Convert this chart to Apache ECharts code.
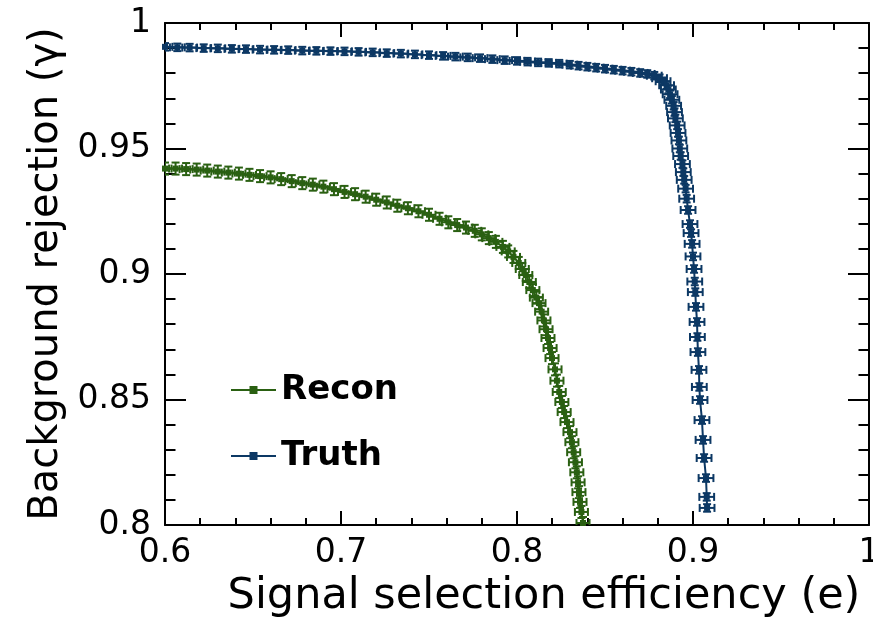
<!DOCTYPE html>
<html>
<head>
<meta charset="utf-8">
<script src="https://cdn.jsdelivr.net/npm/echarts@6/dist/echarts.min.js"></script>
<style>
  html, body { margin: 0; padding: 0; background: #fff; }
  #roc { width: 873px; height: 621px; }
</style>
</head>
<body>
<div id="roc"></div>
<script>
// ROC curves: background rejection vs signal efficiency

var reconX = [0.600, 0.606, 0.612, 0.618, 0.624, 0.630, 0.636, 0.642, 0.648, 0.654,
	0.660, 0.666, 0.672, 0.678, 0.684, 0.690, 0.696, 0.702, 0.708, 0.714,
	0.720, 0.726, 0.732, 0.738, 0.744, 0.750, 0.756, 0.761, 0.766, 0.771,
	0.776, 0.780, 0.784, 0.788, 0.792, 0.795, 0.798, 0.801, 0.803, 0.805,
	0.807, 0.809, 0.811, 0.8125, 0.814, 0.8153, 0.8165, 0.8176, 0.8188, 0.8199,
	0.8216, 0.8227, 0.8240, 0.8255, 0.8268, 0.8284, 0.8301, 0.8312, 0.8322, 0.8332,
	0.8340, 0.8347, 0.8352, 0.8358, 0.8366, 0.8375];
var reconY = [0.9420, 0.9420, 0.9418, 0.9416, 0.9412, 0.9408, 0.9404, 0.9400, 0.9395, 0.9390,
	0.9385, 0.9378, 0.9370, 0.9362, 0.9356, 0.9348, 0.9338, 0.9327, 0.9318, 0.9308,
	0.9296, 0.9285, 0.9272, 0.9262, 0.9250, 0.9236, 0.9220, 0.9206, 0.9195, 0.9185,
	0.9172, 0.9158, 0.9143, 0.9128, 0.9108, 0.9090, 0.9068, 0.9044, 0.9020, 0.8996,
	0.8968, 0.8936, 0.8906, 0.8884, 0.8850, 0.8815, 0.8780, 0.8745, 0.8705, 0.8665,
	0.8620, 0.8575, 0.8530, 0.8490, 0.8450, 0.8410, 0.8370, 0.8330, 0.8290, 0.8250,
	0.8210, 0.8170, 0.8131, 0.8092, 0.8052, 0.8008];

var truthX = [0.600, 0.607, 0.614, 0.622, 0.630, 0.638, 0.646, 0.654, 0.662, 0.670,
	0.678, 0.686, 0.694, 0.702, 0.710, 0.718, 0.726, 0.734, 0.742, 0.750,
	0.758, 0.765, 0.772, 0.779, 0.786, 0.793, 0.800, 0.806, 0.812, 0.818,
	0.824, 0.830, 0.835, 0.840, 0.845, 0.850, 0.855, 0.860, 0.865, 0.870,
	0.874, 0.878, 0.881, 0.883, 0.885, 0.886, 0.887, 0.888, 0.889, 0.8895,
	0.890, 0.891, 0.8915, 0.892, 0.8925, 0.893, 0.894, 0.8945, 0.895, 0.8958,
	0.8964, 0.8972, 0.8983, 0.8989, 0.8995, 0.9000, 0.9006, 0.9010, 0.9013, 0.9017,
	0.9023, 0.9025, 0.9028, 0.9034, 0.9036, 0.9040, 0.9051, 0.9057, 0.9063, 0.9074,
	0.9078, 0.9080];
var truthY = [0.9905, 0.9903, 0.9902, 0.9900, 0.9899, 0.9897, 0.9896, 0.9894, 0.9893, 0.9892,
	0.9890, 0.9889, 0.9888, 0.9887, 0.9885, 0.9883, 0.9880, 0.9878, 0.9875, 0.9872,
	0.9869, 0.9866, 0.9863, 0.9860, 0.9856, 0.9852, 0.9849, 0.9846, 0.9843, 0.9841,
	0.9838, 0.9834, 0.9830, 0.9826, 0.9822, 0.9818, 0.9814, 0.9810, 0.9806, 0.9801,
	0.9797, 0.9790, 0.9780, 0.9768, 0.9752, 0.9735, 0.9716, 0.9694, 0.9670, 0.9645,
	0.9620, 0.9592, 0.9562, 0.9532, 0.9500, 0.9470, 0.9438, 0.9406, 0.9375, 0.9340,
	0.9300, 0.9255, 0.9199, 0.9163, 0.9120, 0.9070, 0.9020, 0.8970, 0.8928, 0.8869,
	0.8809, 0.8749, 0.8689, 0.8618, 0.8550, 0.8498, 0.8418, 0.8339, 0.8267, 0.8187,
	0.8112, 0.8068];

// half widths of the error bars (x: efficiency, y: rejection)
var reconErr = [0.0037, 0.0024];
var truthErr = [0.0042, 0.0015];

var xTicks = [0.6, 1, 0.1];
var yTicks = [0.8, 1, 0.05];

var reconColor = '#2a6012';
var truthColor = '#0c3864';
var fontName = 'DejaVu Sans';

function pairs(xs, ys) {
	var out = [];
	for (var i = 0; i < xs.length; i++) {
		out.push([xs[i], ys[i]]);
	}
	return out;
}

function errorBars(color, err) {
	return function (params, api) {
		var x = api.value(0), y = api.value(1);
		var c = api.coord([x, y]);
		var l = api.coord([x - err[0], y])[0];
		var r = api.coord([x + err[0], y])[0];
		var t = api.coord([x, y + err[1]])[1];
		var b = api.coord([x, y - err[1]])[1];
		var cap = 4;
		var st = { stroke: color, lineWidth: 2 };
		return {
			type: 'group',
			children: [
				{ type: 'line', shape: { x1: l, y1: c[1], x2: r, y2: c[1] }, style: st },
				{ type: 'line', shape: { x1: l, y1: c[1] - cap, x2: l, y2: c[1] + cap }, style: st },
				{ type: 'line', shape: { x1: r, y1: c[1] - cap, x2: r, y2: c[1] + cap }, style: st },
				{ type: 'line', shape: { x1: c[0], y1: t, x2: c[0], y2: b }, style: st },
				{ type: 'line', shape: { x1: c[0] - cap, y1: t, x2: c[0] + cap, y2: t }, style: st },
				{ type: 'line', shape: { x1: c[0] - cap, y1: b, x2: c[0] + cap, y2: b }, style: st }
			]
		};
	};
}

function frameAxis(pos, range, showLabel, tickLen) {
	return {
		type: 'value',
		position: pos,
		min: range[0],
		max: range[1],
		interval: range[2],
		axisLine: { show: true, onZero: false, lineStyle: { color: '#000', width: 2 } },
		axisTick: { show: true, inside: true, length: tickLen, lineStyle: { color: '#000', width: 2 } },
		minorTick: { show: true, splitNumber: 5, length: tickLen / 2, lineStyle: { color: '#000', width: 2 } },
		splitLine: { show: false },
		axisLabel: {
			show: showLabel,
			color: '#000',
			fontFamily: fontName,
			fontSize: 33,
			margin: 12
		}
	};
}

var myChart = echarts.init(document.getElementById('roc'));

var xMain = frameAxis('bottom', xTicks, true, 14);
xMain.name = 'Signal selection efficiency (e)';
xMain.nameLocation = 'middle';
xMain.nameGap = 50;
xMain.nameTextStyle = { color: '#000', fontFamily: fontName, fontSize: 43, padding: [0, 0, 0, 54] };

var yMain = frameAxis('left', yTicks, true, 21);
yMain.axisLabel.margin = 14;
yMain.name = 'Background rejection (\u03b3)';
yMain.nameLocation = 'middle';
yMain.nameGap = 92;
yMain.nameTextStyle = { color: '#000', fontFamily: fontName, fontSize: 40 };

var option = {
	animation: false,
	backgroundColor: '#fff',
	grid: { left: 165, right: 4, top: 23, bottom: 96, outerBoundsMode: 'none' },
	xAxis: [xMain, frameAxis('top', xTicks, false, 14)],
	yAxis: [yMain, frameAxis('right', yTicks, false, 21)],
	legend: {
		orient: 'vertical',
		left: 225,
		top: 363,
		itemWidth: 45,
		itemHeight: 10,
		itemGap: 22,
		data: ['Recon', 'Truth'],
		textStyle: { color: '#000', fontFamily: fontName, fontWeight: 'bold', fontSize: 34, lineHeight: 44 }
	},
	series: [
		{
			name: 'Recon',
			type: 'line',
			data: pairs(reconX, reconY),
			symbol: 'rect',
			symbolSize: 6,
			lineStyle: { color: reconColor, width: 2 },
			itemStyle: { color: reconColor },
			z: 3
		},
		{
			name: 'Truth',
			type: 'line',
			data: pairs(truthX, truthY),
			symbol: 'rect',
			symbolSize: 6,
			lineStyle: { color: truthColor, width: 2 },
			itemStyle: { color: truthColor },
			z: 3
		},
		{
			name: 'Recon errors',
			type: 'custom',
			data: pairs(reconX, reconY),
			renderItem: errorBars(reconColor, reconErr),
			clip: true,
			z: 2
		},
		{
			name: 'Truth errors',
			type: 'custom',
			data: pairs(truthX, truthY),
			renderItem: errorBars(truthColor, truthErr),
			clip: true,
			z: 2
		}
	]
};

myChart.setOption(option);
</script>
</body>
</html>
